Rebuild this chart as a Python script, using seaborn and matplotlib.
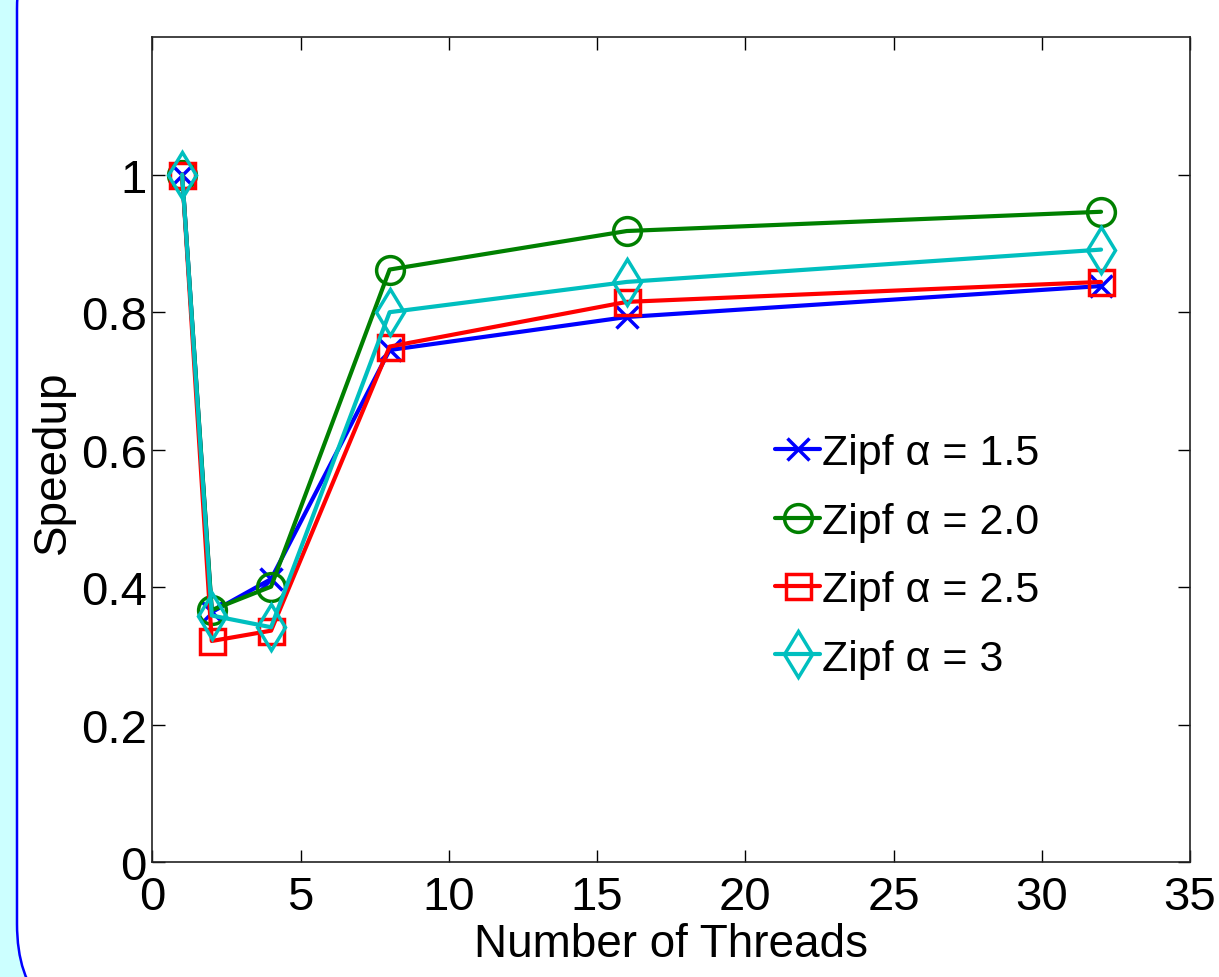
import matplotlib
matplotlib.use("Agg")
import matplotlib.pyplot as plt
import matplotlib.patches as mpatches
from matplotlib.transforms import IdentityTransform
import seaborn as sns

# --- dados ---
threads = [1, 2, 4, 8, 16, 32]
speedup_15 = [1.0, 0.364, 0.412, 0.745, 0.793, 0.838]
speedup_20 = [1.0, 0.367, 0.401, 0.862, 0.918, 0.946]
speedup_25 = [1.0, 0.322, 0.337, 0.750, 0.815, 0.844]
speedup_30 = [1.0, 0.359, 0.342, 0.800, 0.844, 0.891]
labels = ["Zipf α = 1.5", "Zipf α = 2.0", "Zipf α = 2.5", "Zipf α = 3"]
x_ticks = [0, 5, 10, 15, 20, 25, 30, 35]
y_ticks = [0, 0.2, 0.4, 0.6, 0.8, 1.0]

series = [speedup_15, speedup_20, speedup_25, speedup_30]
cores = ["#0000FF", "#008000", "#FF0000", "#00BFBF"]
marcadores = ["x", "o", "s", "d"]
tamanhos = [16, 20, 18, 23]

sns.set_theme(style="ticks")
plt.rcParams['font.family'] = ['Liberation Sans', 'DejaVu Sans']

fig = plt.figure(figsize=(12.19, 9.78), dpi=100)
fig.patch.set_facecolor("#CCFFFF")

# caixa arredondada branca de fundo (estilo slide), atrás dos eixos
caixa = mpatches.FancyBboxPatch((17, -54), 1500, 1129,
                                boxstyle="round,pad=0,rounding_size=107",
                                facecolor="white", edgecolor="#0000FF",
                                linewidth=1.8, transform=IdentityTransform(),
                                zorder=-10)
fig.patches.append(caixa)

ax = fig.add_axes([0.1251, 0.1171, 0.8511, 0.844])
ax.set_facecolor("white")

for vals, cor, mk, ms, lab in zip(series, cores, marcadores, tamanhos, labels):
    sns.lineplot(x=threads, y=vals, ax=ax, color=cor, marker=mk, markersize=ms,
                 markerfacecolor="none", markeredgecolor=cor, markeredgewidth=2.5,
                 linewidth=3, label=lab)

ax.set_xlim(0, 35)
ax.set_ylim(0, 1.2)
ax.set_xticks(x_ticks)
ax.set_yticks(y_ticks)
ax.set_xticklabels([str(t) for t in x_ticks])
ax.set_yticklabels(["0", "0.2", "0.4", "0.6", "0.8", "1"])
ax.tick_params(direction="in", length=9, width=1, top=True, right=True,
               labelsize=34, colors="black", pad=4)
ax.tick_params(axis="x", pad=9)
for s in ax.spines.values():
    s.set_visible(True)
    s.set_color("#222222")
    s.set_linewidth(1.2)

ax.set_xlabel("Number of Threads", fontsize=33, labelpad=2, color="black")
ax.set_ylabel("Speedup", fontsize=33, labelpad=4, color="black")
ax.yaxis.label.set_y(0.486)

leg = ax.legend(loc="upper left", bbox_to_anchor=(0.6, 0.52), frameon=False,
                fontsize=31, handlelength=1.05, handletextpad=0.05,
                labelspacing=0.66, borderpad=0, borderaxespad=0)
for t in leg.get_texts():
    t.set_color("black")

fig.savefig("out.png", dpi=100, facecolor=fig.get_facecolor())
